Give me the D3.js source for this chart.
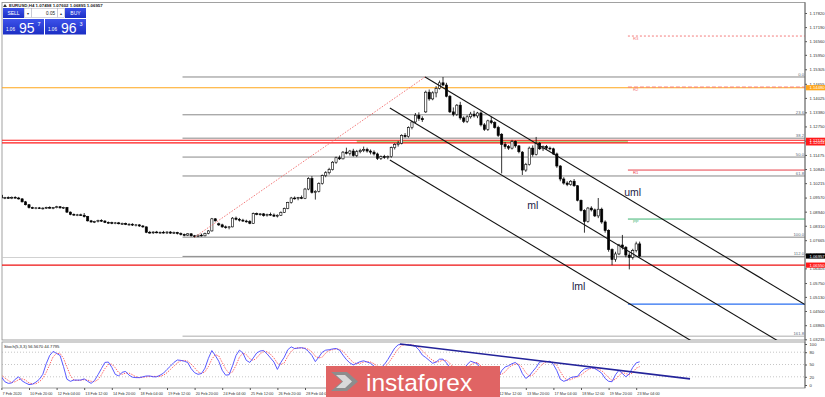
<!DOCTYPE html>
<html>
<head>
<meta charset="utf-8">
<script src="https://cdn.jsdelivr.net/npm/d3@7"></script>
<style>
body { margin: 0; background: #fff; }
svg text { font-family: "Liberation Sans", Arial, sans-serif; }
</style>
</head>
<body>
<svg id="chart"></svg>
<script>
// EURUSD H4, 7 Feb 12:00 -> 23 Mar 08:00 2020, one row per bar: open, high, low, close
const ohlc = [
[1.0968,1.0975,1.0950,1.0955],[1.0955,1.0960,1.0950,1.0957],[1.0957,1.0962,1.0952,1.0955],[1.0955,1.0962,1.0950,1.0958],
[1.0958,1.0963,1.0953,1.0955],[1.0955,1.0960,1.0948,1.0951],[1.0951,1.0955,1.0935,1.0938],[1.0938,1.0942,1.0922,1.0925],
[1.0925,1.0928,1.0908,1.0912],[1.0912,1.0916,1.0907,1.0910],[1.0910,1.0914,1.0905,1.0911],[1.0911,1.0915,1.0906,1.0909],
[1.0909,1.0913,1.0904,1.0910],[1.0910,1.0916,1.0906,1.0913],[1.0913,1.0918,1.0908,1.0910],[1.0910,1.0915,1.0905,1.0912],
[1.0912,1.0920,1.0909,1.0916],[1.0916,1.0919,1.0908,1.0911],[1.0911,1.0916,1.0906,1.0913],[1.0913,1.0915,1.0888,1.0892],
[1.0892,1.0895,1.0878,1.0882],[1.0882,1.0886,1.0876,1.0879],[1.0879,1.0884,1.0874,1.0880],[1.0880,1.0885,1.0875,1.0878],
[1.0878,1.0888,1.0868,1.0872],[1.0872,1.0875,1.0850,1.0853],[1.0853,1.0857,1.0845,1.0848],[1.0848,1.0853,1.0843,1.0850],
[1.0850,1.0858,1.0846,1.0855],[1.0855,1.0860,1.0848,1.0852],[1.0852,1.0856,1.0843,1.0846],[1.0846,1.0850,1.0840,1.0845],
[1.0845,1.0849,1.0838,1.0842],[1.0842,1.0848,1.0838,1.0844],[1.0844,1.0848,1.0837,1.0840],[1.0840,1.0845,1.0835,1.0841],
[1.0841,1.0845,1.0834,1.0837],[1.0837,1.0842,1.0832,1.0838],[1.0838,1.0842,1.0830,1.0834],[1.0834,1.0839,1.0828,1.0835],
[1.0835,1.0838,1.0826,1.0830],[1.0830,1.0834,1.0822,1.0826],[1.0826,1.0828,1.0798,1.0802],[1.0802,1.0808,1.0795,1.0800],
[1.0800,1.0806,1.0794,1.0803],[1.0803,1.0808,1.0797,1.0800],[1.0800,1.0805,1.0795,1.0802],[1.0802,1.0808,1.0796,1.0799],
[1.0799,1.0806,1.0794,1.0803],[1.0803,1.0807,1.0795,1.0798],[1.0798,1.0805,1.0794,1.0801],[1.0801,1.0804,1.0792,1.0796],
[1.0796,1.0801,1.0788,1.0792],[1.0792,1.0796,1.0784,1.0789],[1.0789,1.0798,1.0785,1.0795],[1.0795,1.0798,1.0783,1.0786],
[1.0786,1.0790,1.0778,1.0784],[1.0784,1.0792,1.0780,1.0789],[1.0789,1.0796,1.0783,1.0786],[1.0786,1.0800,1.0784,1.0797],
[1.0797,1.0812,1.0793,1.0808],[1.0808,1.0866,1.0805,1.0862],[1.0862,1.0865,1.0850,1.0853],[1.0840,1.0845,1.0830,1.0835],
[1.0835,1.0840,1.0822,1.0826],[1.0826,1.0832,1.0818,1.0823],[1.0823,1.0830,1.0815,1.0826],[1.0826,1.0870,1.0824,1.0865],
[1.0865,1.0872,1.0855,1.0860],[1.0860,1.0866,1.0850,1.0856],[1.0856,1.0862,1.0848,1.0852],[1.0852,1.0858,1.0845,1.0850],
[1.0850,1.0856,1.0838,1.0842],[1.0842,1.0890,1.0840,1.0885],[1.0885,1.0890,1.0878,1.0882],[1.0882,1.0888,1.0876,1.0884],
[1.0884,1.0888,1.0872,1.0876],[1.0876,1.0885,1.0872,1.0882],[1.0882,1.0890,1.0876,1.0879],[1.0879,1.0886,1.0870,1.0874],
[1.0874,1.0882,1.0868,1.0878],[1.0878,1.0895,1.0875,1.0891],[1.0891,1.0912,1.0888,1.0908],[1.0908,1.0938,1.0905,1.0935],
[1.0935,1.0960,1.0930,1.0955],[1.0955,1.0962,1.0948,1.0952],[1.0952,1.0960,1.0945,1.0957],[1.0957,1.0966,1.0950,1.0953],
[1.0953,1.1000,1.0950,1.0995],[1.0995,1.1048,1.0990,1.1042],[1.1042,1.1053,1.0975,1.0980],[1.0980,1.0990,1.0948,1.0985],
[1.0985,1.1025,1.0980,1.1020],[1.1020,1.1060,1.1015,1.1055],[1.1055,1.1075,1.1048,1.1068],[1.1068,1.1090,1.1060,1.1082],
[1.1082,1.1120,1.1078,1.1115],[1.1115,1.1140,1.1108,1.1135],[1.1135,1.1145,1.1125,1.1130],[1.1130,1.1165,1.1128,1.1160],
[1.1160,1.1180,1.1150,1.1155],[1.1155,1.1170,1.1145,1.1165],[1.1165,1.1175,1.1140,1.1145],[1.1145,1.1170,1.1138,1.1162],
[1.1162,1.1175,1.1155,1.1168],[1.1168,1.1185,1.1160,1.1172],[1.1172,1.1180,1.1158,1.1165],[1.1165,1.1172,1.1150,1.1160],
[1.1160,1.1168,1.1145,1.1152],[1.1152,1.1158,1.1125,1.1132],[1.1132,1.1145,1.1125,1.1140],[1.1140,1.1148,1.1130,1.1136],
[1.1136,1.1145,1.1128,1.1140],[1.1140,1.1185,1.1135,1.1180],[1.1180,1.1200,1.1172,1.1195],[1.1195,1.1210,1.1185,1.1200],
[1.1200,1.1240,1.1195,1.1235],[1.1235,1.1245,1.1225,1.1230],[1.1230,1.1275,1.1225,1.1270],[1.1270,1.1300,1.1262,1.1295],
[1.1295,1.1335,1.1290,1.1325],[1.1325,1.1338,1.1300,1.1310],[1.1310,1.1320,1.1295,1.1305],[1.1340,1.1435,1.1335,1.1428],
[1.1428,1.1440,1.1390,1.1398],[1.1398,1.1432,1.1392,1.1425],[1.1425,1.1455,1.1405,1.1445],[1.1445,1.1480,1.1440,1.1470],
[1.1470,1.1496,1.1455,1.1460],[1.1460,1.1470,1.1405,1.1410],[1.1410,1.1415,1.1335,1.1340],[1.1340,1.1360,1.1320,1.1328],
[1.1328,1.1375,1.1322,1.1370],[1.1370,1.1385,1.1305,1.1313],[1.1313,1.1320,1.1290,1.1298],[1.1298,1.1325,1.1290,1.1318],
[1.1318,1.1340,1.1310,1.1330],[1.1330,1.1345,1.1315,1.1322],[1.1322,1.1340,1.1312,1.1335],[1.1335,1.1342,1.1275,1.1282],
[1.1282,1.1290,1.1255,1.1262],[1.1262,1.1305,1.1255,1.1300],[1.1300,1.1318,1.1285,1.1292],[1.1292,1.1298,1.1265,1.1270],
[1.1270,1.1278,1.1228,1.1235],[1.1240,1.1245,1.1065,1.1195],[1.1195,1.1205,1.1175,1.1185],[1.1185,1.1192,1.1170,1.1178],
[1.1178,1.1215,1.1172,1.1208],[1.1208,1.1212,1.1180,1.1188],[1.1188,1.1192,1.1155,1.1162],[1.1160,1.1165,1.1058,1.1080],
[1.1080,1.1112,1.1072,1.1105],[1.1105,1.1185,1.1100,1.1178],[1.1178,1.1190,1.1140,1.1150],[1.1150,1.1228,1.1145,1.1200],
[1.1200,1.1205,1.1170,1.1175],[1.1175,1.1190,1.1165,1.1185],[1.1185,1.1192,1.1170,1.1178],[1.1178,1.1185,1.1168,1.1175],
[1.1175,1.1180,1.1148,1.1152],[1.1152,1.1158,1.1090,1.1098],[1.1098,1.1102,1.1030,1.1040],[1.1040,1.1048,1.1015,1.1022],
[1.1022,1.1030,1.1008,1.1015],[1.1015,1.1035,1.1010,1.1030],[1.1030,1.1040,1.1005,1.1010],[1.1010,1.1012,1.0940,1.0945],
[1.0945,1.0948,1.0895,1.0900],[1.0900,1.0905,1.0800,1.0850],[1.0850,1.0915,1.0845,1.0910],[1.0910,1.0918,1.0895,1.0902],
[1.0902,1.0908,1.0870,1.0875],[1.0875,1.0955,1.0865,1.0905],[1.0905,1.0912,1.0840,1.0848],[1.0848,1.0855,1.0800,1.0810],
[1.0810,1.0815,1.0715,1.0725],[1.0725,1.0730,1.0655,1.0680],[1.0680,1.0715,1.0670,1.0705],[1.0705,1.0750,1.0700,1.0745],
[1.0745,1.0790,1.0725,1.0735],[1.0735,1.0740,1.0690,1.0700],[1.0700,1.0712,1.0636,1.0690],[1.0690,1.0728,1.0680,1.0720],
[1.0720,1.0760,1.0712,1.0750],[1.07498,1.07602,1.06895,1.06957]
];

// Stochastic (5,3,3): main and signal, one value per bar
const stochMain = [20,8,4,5,14,20,10,5,1,2,7,14,26,52,72,82,77,72,45,14,9,12,12,12,15,9,4,11,25,40,
55,56,43,26,22,31,33,24,19,18,18,20,22,22,20,20,24,29,38,46,55,61,60,58,55,40,30,26,28,41,
65,84,72,58,36,24,25,47,72,85,78,60,55,66,78,83,84,76,66,56,38,55,68,86,93,89,90,91,89,82,
72,57,68,80,85,86,88,89,85,73,62,54,49,53,57,59,56,53,46,40,42,50,62,76,90,98,99,99,98,97,
94,86,73,67,60,53,56,63,63,54,42,34,44,32,38,50,58,55,52,32,28,42,36,24,18,35,44,47,52,55,
47,28,16,22,33,43,56,57,57,58,50,35,14,9,12,18,20,21,32,39,41,42,40,35,29,16,9,8,25,36,
28,20,27,43,54,56.567];
const stochSignal = [25,17,11,6,8,13,15,12,5,3,3,8,16,31,50,69,77,77,65,44,23,12,11,12,13,12,9,8,13,25,
40,50,51,42,30,26,29,29,25,20,18,19,20,21,21,21,21,24,30,38,46,54,59,60,58,51,42,32,28,32,
45,63,74,71,55,39,28,32,48,68,78,74,64,60,66,76,82,81,75,66,53,50,54,70,82,89,91,90,90,87,
81,70,66,68,78,84,86,88,87,82,73,63,55,52,53,56,57,56,52,46,43,44,51,63,76,88,96,99,99,98,
96,92,84,75,67,60,56,57,61,60,53,43,40,37,38,40,49,54,55,46,37,34,35,34,26,26,32,42,48,51,
51,43,30,22,24,33,44,52,57,57,55,48,33,19,12,13,17,20,24,31,37,41,41,39,35,27,18,11,14,23,
30,28,25,30,41,44.7795];

// time axis: bar index -> label
const timeIdx = [0,8,16,24,32,40,48,56,64,72,80,88,96,104,112,120,128,136,144,152,160,168,176,184];
const timeText = ["7 Feb 2020","10 Feb 20:00","12 Feb 04:00","13 Feb 12:00","14 Feb 20:00","18 Feb 04:00",
  "19 Feb 12:00","20 Feb 20:00","24 Feb 04:00","25 Feb 12:00","26 Feb 20:00","28 Feb 04:00","2 Mar 12:00",
  "3 Mar 20:00","5 Mar 04:00","6 Mar 12:00","9 Mar 20:00","11 Mar 04:00","12 Mar 12:00","13 Mar 20:00",
  "17 Mar 04:00","18 Mar 12:00","19 Mar 20:00","23 Mar 04:00"];

const priceTicks = [1.17820,1.17190,1.16560,1.15950,1.15305,1.14655,1.14025,1.13380,1.12750,1.12115,
  1.11475,1.10845,1.10215,1.09570,1.08940,1.08310,1.07665,1.07035,1.06405,1.05750,1.05130,1.04500,1.03865,1.03235];
const stochTicks = [100,80,50,20,0];

// fibonacci retracement (low 20 Feb -> high 9 Mar)
const fibLow = [56, 1.0780];
const fibHigh = [122.8, 1.1496];
const fibLevels = [0, 23.6, 38.2, 50, 61.8, 100, 112, 161.8];
const fibStart = 52.5;

// pitchfork lines: [bar, price] -> [bar, price]
const forkNames = ["uml", "ml", "lml"];
const forkFrom = [[122.8, 1.1496], [112.6, 1.1357], [112.6, 1.1125]];
const forkTo = [[232.9, 1.0479], [232.9, 1.0244], [232.9, 1.0012]];
const forkLabelAt = [[180.5, 1.0962], [152.4, 1.0908], [165.4, 1.0546]];

// daily pivots
const pivotNames = ["R3", "R2", "R1", "PP", "S1"];
const pivotPrices = [1.1679, 1.1451, 1.1080, 1.0861, 1.0481];
const pivotStart = 181.6;

// horizontal support / resistance lines across the chart
const levelPrices = [1.1448, 1.1213, 1.12014, 1.0655];
const levelColors = ["#ffa61a", "#ff1a1a", "#ff1a1a", "#ee1111"];
const zoneFrom = 103, zoneTo = 181.6;

const bid = 1.06957;

const W = 825, H = 397;
const plotL = 2, plotR = 805, mainT = 3, mainB = 340, stT = 342, stB = 388;

const svg = d3.select('#chart').attr('width', W).attr('height', H);

const x = d3.scaleLinear().domain([0, 185]).range([1.4, 639.65]);
const y = d3.scaleLinear().domain([1.03235, 1.17820]).range([339.3, 13]);
const ys = d3.scaleLinear().domain([0, 100]).range([385, 344]);
const rightIdx = x.invert(plotR);

const defs = svg.append('defs');
defs.append('clipPath').attr('id', 'mainClip').append('rect')
  .attr('x', plotL).attr('y', mainT).attr('width', plotR - plotL).attr('height', mainB - mainT);
defs.append('clipPath').attr('id', 'stClip').append('rect')
  .attr('x', plotL).attr('y', stT).attr('width', plotR - plotL).attr('height', stB - stT);
const grad = defs.append('linearGradient').attr('id', 'blueBtn').attr('x1', 0).attr('x2', 0).attr('y1', 0).attr('y2', 1);
grad.append('stop').attr('offset', '0%').attr('stop-color', '#3d52ea');
grad.append('stop').attr('offset', '100%').attr('stop-color', '#1b2ec4');

// frames
svg.append('rect').attr('x', plotL).attr('y', mainT - 0.5).attr('width', plotR - plotL).attr('height', mainB - mainT + 0.5)
  .attr('fill', 'none').attr('stroke', '#8a8a8a').attr('stroke-width', 0.8);
svg.append('rect').attr('x', plotL).attr('y', stT).attr('width', plotR - plotL).attr('height', stB - stT)
  .attr('fill', 'none').attr('stroke', '#8a8a8a').attr('stroke-width', 0.8);

const main = svg.append('g').attr('clip-path', 'url(#mainClip)');

// green zone
main.append('rect')
  .attr('x', x(zoneFrom)).attr('width', x(zoneTo) - x(zoneFrom))
  .attr('y', y(levelPrices[1])).attr('height', y(levelPrices[2]) - y(levelPrices[1]))
  .attr('fill', '#a6d98a');

// fib levels
const fibPrice = l => fibHigh[1] - (fibHigh[1] - fibLow[1]) * l / 100;
main.selectAll('.fib').data(fibLevels).enter().append('line')
  .attr('x1', x(fibStart)).attr('x2', x(rightIdx))
  .attr('y1', d => y(fibPrice(d))).attr('y2', d => y(fibPrice(d)))
  .attr('stroke', d => d === 161.8 ? '#c8c8c8' : '#7a7a7a').attr('stroke-width', d => d === 161.8 ? 1.5 : 0.9);
main.selectAll('.fibt').data(fibLevels).enter().append('text')
  .attr('x', plotR - 1).attr('y', d => y(fibPrice(d)) - 1)
  .attr('text-anchor', 'end').attr('font-size', 4.2).attr('fill', '#5b6b7b')
  .text(d => d.toFixed(1));

// bid line
main.append('line').attr('x1', plotL).attr('x2', plotR).attr('y1', y(bid) + 1.5).attr('y2', y(bid) + 1.5)
  .attr('stroke', '#c4c4c4').attr('stroke-width', 0.8);

// full-width levels
main.selectAll('.lvl').data(levelPrices).enter().append('line')
  .attr('x1', plotL).attr('x2', plotR)
  .attr('y1', d => y(d)).attr('y2', d => y(d))
  .attr('stroke', (d, i) => levelColors[i]).attr('stroke-width', 1.1);

// pivots
const pivotColor = ["#f47c7c", "#f47c7c", "#e8404a", "#3cb371", "#2a6ff0"];
const pivotDash = ["2,2", "4,2", null, null, null];
main.selectAll('.piv').data(pivotPrices).enter().append('line')
  .attr('x1', x(pivotStart)).attr('x2', plotR)
  .attr('y1', d => y(d)).attr('y2', d => y(d))
  .attr('stroke', (d, i) => pivotColor[i])
  .attr('stroke-width', (d, i) => i === 4 ? 1.3 : 1)
  .attr('stroke-dasharray', (d, i) => pivotDash[i]);
main.selectAll('.pivt').data(pivotNames.slice(0, 4)).enter().append('text')
  .attr('x', x(pivotStart) + 5).attr('y', (d, i) => y(pivotPrices[i]) + 4)
  .attr('font-size', 4.2).attr('fill', (d, i) => pivotColor[i])
  .text(d => d);

// candles
const bw = 2.2;
const cg = main.append('g');
cg.selectAll('.wick').data(ohlc).enter().append('line')
  .attr('x1', (d, i) => x(i)).attr('x2', (d, i) => x(i))
  .attr('y1', d => y(d[1])).attr('y2', d => y(d[2]))
  .attr('stroke', '#000').attr('stroke-width', 0.8);
cg.selectAll('.body').data(ohlc).enter().append('rect')
  .attr('x', (d, i) => x(i) - bw / 2).attr('width', bw)
  .attr('y', d => y(Math.max(d[0], d[3])))
  .attr('height', d => Math.max(0.8, Math.abs(y(d[0]) - y(d[3]))))
  .attr('fill', d => d[3] >= d[0] ? '#fff' : '#000')
  .attr('stroke', '#000').attr('stroke-width', 0.6);

// fib trend line (dotted)
main.append('line')
  .attr('x1', x(fibLow[0])).attr('y1', y(fibLow[1]))
  .attr('x2', x(fibHigh[0])).attr('y2', y(fibHigh[1]))
  .attr('stroke', '#f06a6a').attr('stroke-width', 0.9).attr('stroke-dasharray', '1.5,1.5');

// pitchfork
main.selectAll('.fork').data(forkFrom).enter().append('line')
  .attr('x1', d => x(d[0])).attr('y1', d => y(d[1]))
  .attr('x2', (d, i) => x(forkTo[i][0])).attr('y2', (d, i) => y(forkTo[i][1]))
  .attr('stroke', '#111').attr('stroke-width', 1.1);
main.selectAll('.forkt').data(forkNames).enter().append('text')
  .attr('x', (d, i) => x(forkLabelAt[i][0])).attr('y', (d, i) => y(forkLabelAt[i][1]))
  .attr('font-family', '"DejaVu Sans", sans-serif')
  .attr('font-size', 10.5).attr('fill', '#1c1c48')
  .text(d => d);

// price axis
const pAxis = svg.append('g').attr('transform', `translate(${plotR},0)`)
  .call(d3.axisRight(y).tickValues(priceTicks).tickFormat(d3.format('.5f')).tickSize(2).tickSizeOuter(0));
pAxis.select('.domain').remove();
pAxis.selectAll('line').attr('stroke', '#555');
pAxis.selectAll('text').attr('font-size', 4.2).attr('fill', '#333').attr('x', 4.5)
  .attr('font-family', '"Liberation Sans", Arial, sans-serif');
svg.append('line').attr('x1', plotR).attr('x2', plotR).attr('y1', mainT - 0.5).attr('y2', stB)
  .attr('stroke', '#666').attr('stroke-width', 0.9);

// highlighted price tags
const tagPrices = [levelPrices[0], levelPrices[1], levelPrices[2], bid, levelPrices[3]];
const tagColors = ["#ffa61a", "#ff1a1a", "#ff1a1a", "#000", "#ff1a1a"];
const tags = svg.append('g');
tags.selectAll('rect').data(tagPrices).enter().append('rect')
  .attr('x', plotR + 1).attr('width', 19).attr('y', d => y(d) - 2.6).attr('height', 5.2)
  .attr('fill', (d, i) => tagColors[i]);
tags.selectAll('text').data(tagPrices).enter().append('text')
  .attr('x', plotR + 4.5).attr('y', d => y(d) + 1.6)
  .attr('font-size', 4.2).attr('fill', '#fff')
  .text(d => d.toFixed(5));

// stochastic panel
const st = svg.append('g').attr('clip-path', 'url(#stClip)');
st.selectAll('.lv').data([80, 50, 20]).enter().append('line')
  .attr('x1', plotL).attr('x2', plotR).attr('y1', d => ys(d)).attr('y2', d => ys(d))
  .attr('stroke', '#a0a0a0').attr('stroke-width', 0.6).attr('stroke-dasharray', '1,2');
st.append('path').datum(stochSignal)
  .attr('d', d3.line().x((d, i) => x(i)).y(d => ys(d)))
  .attr('fill', 'none').attr('stroke', '#ff3a3a').attr('stroke-width', 0.8).attr('stroke-dasharray', '1.4,1.2');
st.append('path').datum(stochMain)
  .attr('d', d3.line().x((d, i) => x(i)).y(d => ys(d)))
  .attr('fill', 'none').attr('stroke', '#4646ff').attr('stroke-width', 0.9);
// trend line on the oscillator
const stTrend = [[115.5, 100], [199.6, 15]];
st.append('line')
  .attr('x1', x(stTrend[0][0])).attr('y1', ys(stTrend[0][1]))
  .attr('x2', x(stTrend[1][0])).attr('y2', ys(stTrend[1][1]))
  .attr('stroke', '#23239a').attr('stroke-width', 1.6);
svg.append('text').attr('x', 4).attr('y', 347.5).attr('font-size', 4.2).attr('fill', '#222')
  .text('Stoch(5,3,3) 56.5670 44.7795');

const sAxis = svg.append('g').attr('transform', `translate(${plotR},0)`)
  .call(d3.axisRight(ys).tickValues(stochTicks).tickSize(2).tickSizeOuter(0));
sAxis.select('.domain').remove();
sAxis.selectAll('line').attr('stroke', '#555');
sAxis.selectAll('text').attr('font-size', 4.2).attr('fill', '#333').attr('x', 4.5)
  .attr('font-family', '"Liberation Sans", Arial, sans-serif');

// time axis
const tAxis = svg.append('g').attr('transform', `translate(0,${stB})`)
  .call(d3.axisBottom(x).tickValues(timeIdx).tickFormat((d, i) => timeText[i]).tickSize(2).tickSizeOuter(0));
tAxis.select('.domain').remove();
tAxis.selectAll('line').attr('stroke', '#555');
tAxis.selectAll('text').attr('font-size', 3.8).attr('fill', '#333').attr('text-anchor', 'start')
  .attr('dx', 0.6).attr('y', 4).attr('font-family', '"Liberation Sans", Arial, sans-serif');

// header
svg.append('path').attr('d', 'M3,7 L5,4 L7,7 Z').attr('fill', '#333');
svg.append('text').attr('x', 9).attr('y', 7).attr('font-size', 4.4).attr('font-weight', 'bold').attr('fill', '#222')
  .text('EURUSD,H4  1.07498 1.07602 1.06895 1.06957');

// one-click trading panel
const tp = svg.append('g');
tp.append('rect').attr('x', 3).attr('y', 8).attr('width', 21).attr('height', 10).attr('fill', 'url(#blueBtn)');
tp.append('text').attr('x', 13.5).attr('y', 14.8).attr('text-anchor', 'middle').attr('font-size', 5).attr('fill', '#fff').text('SELL');
tp.append('rect').attr('x', 24.5).attr('y', 8.5).attr('width', 7).attr('height', 9).attr('fill', '#fff').attr('stroke', '#aab').attr('stroke-width', 0.5);
tp.append('text').attr('x', 28).attr('y', 14.5).attr('text-anchor', 'middle').attr('font-size', 4).attr('fill', '#333').text('▾');
tp.append('rect').attr('x', 31.5).attr('y', 8.5).attr('width', 26).attr('height', 9).attr('fill', '#fff').attr('stroke', '#aab').attr('stroke-width', 0.5);
tp.append('text').attr('x', 55).attr('y', 14.8).attr('text-anchor', 'end').attr('font-size', 4.6).attr('fill', '#222').text('0.05');
tp.append('rect').attr('x', 57.5).attr('y', 8.5).attr('width', 7).attr('height', 9).attr('fill', '#fff').attr('stroke', '#aab').attr('stroke-width', 0.5);
tp.append('text').attr('x', 61).attr('y', 14.5).attr('text-anchor', 'middle').attr('font-size', 4).attr('fill', '#333').text('▴');
tp.append('rect').attr('x', 65).attr('y', 8).attr('width', 21).attr('height', 10).attr('fill', 'url(#blueBtn)');
tp.append('text').attr('x', 75.5).attr('y', 14.8).attr('text-anchor', 'middle').attr('font-size', 5).attr('fill', '#fff').text('BUY');
tp.append('rect').attr('x', 3).attr('y', 19).attr('width', 41).attr('height', 15.5).attr('fill', 'url(#blueBtn)');
tp.append('rect').attr('x', 45).attr('y', 19).attr('width', 41).attr('height', 15.5).attr('fill', 'url(#blueBtn)');
const quotes = [["1.06", "95", "7", 3], ["1.06", "96", "3", 45]];
quotes.forEach(q => {
  tp.append('text').attr('x', q[3] + 3).attr('y', 31).attr('font-size', 4.6).attr('fill', '#fff').text(q[0]);
  tp.append('text').attr('x', q[3] + 16).attr('y', 32.5).attr('font-size', 14).attr('fill', '#fff')
    .attr('font-family', '"DejaVu Sans", sans-serif').text(q[1]);
  tp.append('text').attr('x', q[3] + 34.5).attr('y', 25.5).attr('font-size', 5.5).attr('fill', '#fff').text(q[2]);
});

// watermark
const wm = svg.append('g');
wm.append('rect').attr('x', 326).attr('y', 366).attr('width', 174).attr('height', 31).attr('fill', '#e06464');
wm.append('path').attr('d', 'M331,372 L347,372 L358,381.5 L347,391 L331,391 L342,381.5 Z').attr('fill', '#8d8d8d');
wm.append('path').attr('d', 'M336,375 L345,375 L352,381.5 L345,388 L336,388 L343,381.5 Z').attr('fill', '#d9d9d9');
wm.append('text').attr('x', 366).attr('y', 390.5).attr('font-family', '"Open Sans", sans-serif')
  .attr('font-size', 24.5).attr('fill', '#fff').text('instaforex');
</script>
</body>
</html>
